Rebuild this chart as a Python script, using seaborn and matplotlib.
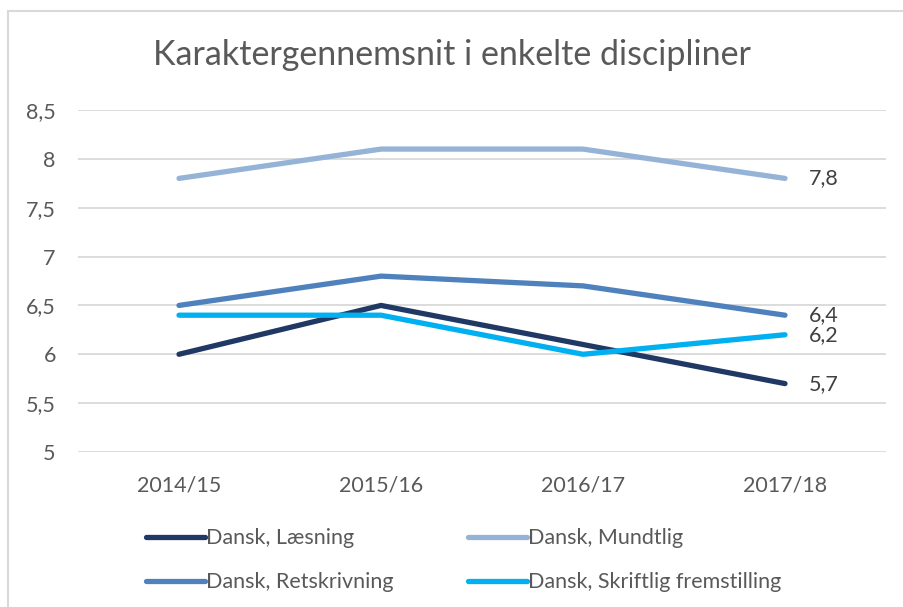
import numpy as np
import pandas as pd
import seaborn as sns
import matplotlib.pyplot as plt
from matplotlib.lines import Line2D
from matplotlib.ticker import FuncFormatter

# %% data
years = ['2014/15', '2015/16', '2016/17', '2017/18']
laesning = [6.0, 6.5, 6.1, 5.7]
mundtlig = [7.8, 8.1, 8.1, 7.8]
retskrivning = [6.5, 6.8, 6.7, 6.4]
skriftlig = [6.4, 6.4, 6.0, 6.2]

series_names = ['Dansk, Læsning', 'Dansk, Mundtlig',
                'Dansk, Retskrivning', 'Dansk, Skriftlig fremstilling']
series_values = [laesning, mundtlig, retskrivning, skriftlig]
colors = ['#203864', '#95B3D7', '#4F81BD', '#00B0F0']

df = pd.DataFrame({
    'year': years * len(series_names),
    'serie': np.repeat(series_names, len(years)),
    'value': np.concatenate(series_values),
})

# %% plot
sns.set_style('white')
plt.rcParams['font.family'] = ['Lato', 'DejaVu Sans']
text_col = '#595959'
fs = 15.5

fig = plt.figure(figsize=(9.04, 6.07), dpi=100)
ax = fig.add_axes([78 / 904, 1 - 452 / 607, (886 - 78) / 904, (452 - 110) / 607])

sns.lineplot(data=df, x='year', y='value', hue='serie', hue_order=series_names,
             palette=colors, linewidth=3.8, sort=False, legend=False, ax=ax)
for line in ax.lines:
    line.set_solid_capstyle('round')
    line.set_solid_joinstyle('round')

ax.set_xlim(-0.5, 3.5)
ax.set_ylim(5, 8.5)
ax.set_yticks(np.arange(5, 8.51, 0.5))
ax.yaxis.set_major_formatter(FuncFormatter(lambda v, _: f'{v:g}'.replace('.', ',')))
ax.grid(axis='y', color='#D9D9D9', linewidth=1.3)
ax.set_axisbelow(True)
for s in ax.spines.values():
    s.set_visible(False)
ax.tick_params(axis='both', length=0, labelsize=fs, labelcolor=text_col)
ax.tick_params(axis='x', pad=17)
ax.tick_params(axis='y', pad=16)
ax.set_xlabel('')
ax.set_ylabel('')

# end-point data labels
for vals in series_values:
    ax.annotate(f'{vals[-1]:g}'.replace('.', ','), xy=(len(years) - 1, vals[-1]),
                xytext=(24, 0), textcoords='offset pixels',
                va='center', ha='left', fontsize=fs, color='#404040')

fig.text(0.5, 1 - 55 / 607, 'Karaktergennemsnit i enkelte discipliner',
         ha='center', va='center', fontsize=24.5, color=text_col)

handles = [Line2D([], [], color=c, linewidth=3.8, solid_capstyle='round') for c in colors]
order = [0, 2, 1, 3]
fig.legend([handles[i] for i in order], [series_names[i] for i in order],
           ncol=2, loc='upper left', bbox_to_anchor=(127 / 904, 1 - 509 / 607),
           frameon=False, fontsize=fs, handlelength=2.7, handletextpad=0.05,
           columnspacing=3.5, labelspacing=1.1, labelcolor=text_col)

# chart border (top and left visible)
fig.add_artist(Line2D([8 / 904, 8 / 904], [0, 1 - 11 / 607], color='#D9D9D9', linewidth=1.5))
fig.add_artist(Line2D([8 / 904, 1], [1 - 11 / 607, 1 - 11 / 607], color='#D9D9D9', linewidth=1.5))

plt.savefig('out.png', dpi=100)
